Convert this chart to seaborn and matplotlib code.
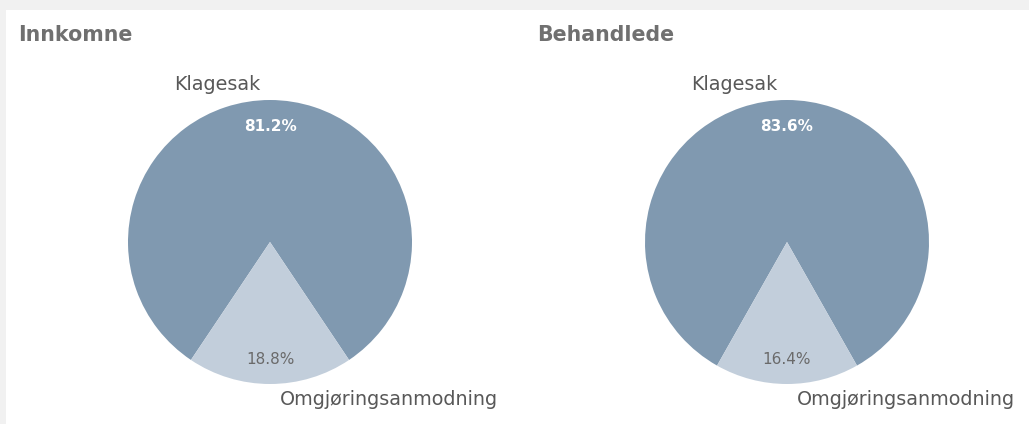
import matplotlib
matplotlib.use("Agg")
import matplotlib.pyplot as plt
import seaborn as sns
from matplotlib.patches import Rectangle

# ──────────────────────────────────────────────
# Data
# ──────────────────────────────────────────────
categories = ["Klagesak", "Omgjøringsanmodning"]
panel_titles = ["Innkomne", "Behandlede"]
innkomne_pct = [81.2, 18.8]
behandlede_pct = [83.6, 16.4]

DARK = "#8099b0"
LIGHT = "#c2cedb"
TITLE_GREY = "#707070"
LABEL_GREY = "#585858"

sns.set_theme(style="white")
plt.rcParams["font.family"] = ["DejaVu Sans"]

W, H = 1029, 424
fig = plt.figure(figsize=(W / 100, H / 100), dpi=100)
fig.patch.set_facecolor("#f1f1f1")
fig.add_artist(Rectangle((6 / W, 0), 1, (H - 10) / H, transform=fig.transFigure,
                         facecolor="white", edgecolor="none", zorder=-5))


def px_axes(cx, cy, r):
    """Square axes (pixel coords from top-left) holding a unit pie."""
    ax = fig.add_axes([(cx - r) / W, (H - cy - r) / H, 2 * r / W, 2 * r / H])
    ax.set_zorder(2)
    return ax


def draw_pie(ax, values, title, title_x):
    p1, p2 = values
    start = 270 - 360 * (p1 + p2 / 2) / (p1 + p2)
    wedges, texts, autotexts = ax.pie(
        values, colors=[DARK, LIGHT], startangle=start,
        autopct="%.1f%%", pctdistance=0.81,
        wedgeprops=dict(linewidth=0),
    )
    autotexts[0].set(color="white", fontweight="bold", fontsize=11)
    autotexts[1].set(color="#6a6a6a", fontsize=11)
    autotexts[1].set_y(autotexts[1].get_position()[1] - 0.02)
    ax.set_xlim(-1, 1)
    ax.set_ylim(-1, 1)
    ax.set_aspect("equal")
    ax.axis("off")

    ax.text(-0.37, 1.11, categories[0], ha="center", va="center",
            fontsize=13.8, color=LABEL_GREY, clip_on=False)
    ax.text(0.84, -1.11, categories[1], ha="center", va="center",
            fontsize=13.8, color=LABEL_GREY, clip_on=False)
    fig.text(title_x / W, 1 - 35 / H, title, ha="left", va="center",
             fontsize=14.8, fontweight="bold", color=TITLE_GREY)


ax_left = px_axes(270, 242, 142)
draw_pie(ax_left, innkomne_pct, panel_titles[0], 18)

ax_right = px_axes(787, 242, 142)
draw_pie(ax_right, behandlede_pct, panel_titles[1], 537)

fig.savefig("out.png", dpi=100)
